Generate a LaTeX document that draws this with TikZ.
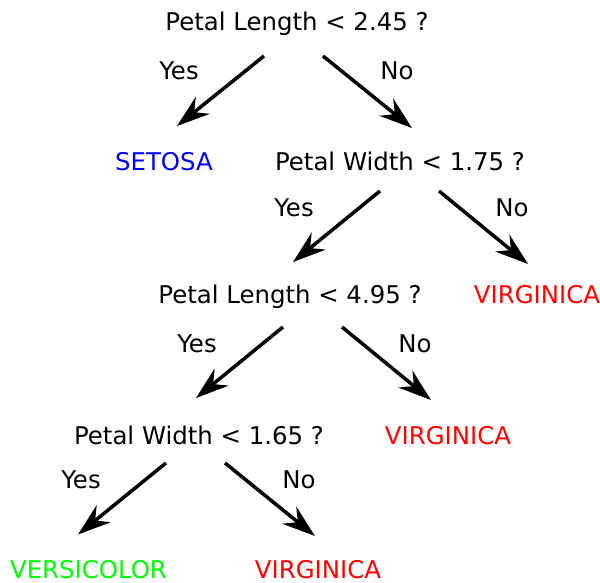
\documentclass[tikz,border=0pt]{standalone}
\usepackage{fontspec}
\setmainfont{DejaVu Sans}
\usetikzlibrary{arrows.meta}
\definecolor{cblue}{RGB}{0,0,255}
\definecolor{cred}{RGB}{255,0,0}
\definecolor{cgreen}{RGB}{0,255,0}
\begin{document}
\begin{tikzpicture}[x=1pt,y=-1pt,
  lbl/.style={anchor=base,inner sep=0pt,font=\fontsize{24.4}{28}\selectfont},
  arr/.style={line width=3.5pt,-{Stealth[length=33pt,width=22pt,inset=11pt]}}]
\useasboundingbox (0,0) rectangle (600,583);
\node[lbl] (q1) at (297,31) {Petal Length < 2.45 ?};
\node[lbl] (y1) at (179,80) {Yes};
\node[lbl] (n1) at (397,80) {No};
\node[lbl,text=cblue] (setosa) at (164,171) {SETOSA};
\node[lbl] (q2) at (400,171) {Petal Width < 1.75 ?};
\node[lbl] (y2) at (294,216) {Yes};
\node[lbl] (n2) at (512,216) {No};
\node[lbl] (q3) at (290,303) {Petal Length < 4.95 ?};
\node[lbl,text=cred] (v1) at (537,303) {VIRGINICA};
\node[lbl] (y3) at (197,352) {Yes};
\node[lbl] (n3) at (415,352) {No};
\node[lbl] (q4) at (199,444) {Petal Width < 1.65 ?};
\node[lbl,text=cred] (v2) at (448,444) {VIRGINICA};
\node[lbl] (y4) at (81,488) {Yes};
\node[lbl] (n4) at (299,488) {No};
\node[lbl,text=cgreen] (vers) at (88.5,578) {VERSICOLOR};
\node[lbl,text=cred] (v3) at (318,578) {VIRGINICA};
\coordinate (a1s) at (264,56); \coordinate (a1e) at (177,126);
\coordinate (b1s) at (323,56); \coordinate (b1e) at (412,128);
\coordinate (a2s) at (380,191); \coordinate (a2e) at (293,262);
\coordinate (b2s) at (439,191); \coordinate (b2e) at (528,264);
\coordinate (a3s) at (283,327); \coordinate (a3e) at (196,398);
\coordinate (b3s) at (342,327); \coordinate (b3e) at (431,400);
\coordinate (a4s) at (166,463); \coordinate (a4e) at (78,534.5);
\coordinate (b4s) at (225,463); \coordinate (b4e) at (315,536);
\draw[arr] (a1s) -- (a1e);
\draw[arr] (b1s) -- (b1e);
\draw[arr] (a2s) -- (a2e);
\draw[arr] (b2s) -- (b2e);
\draw[arr] (a3s) -- (a3e);
\draw[arr] (b3s) -- (b3e);
\draw[arr] (a4s) -- (a4e);
\draw[arr] (b4s) -- (b4e);
\end{tikzpicture}
\end{document}
